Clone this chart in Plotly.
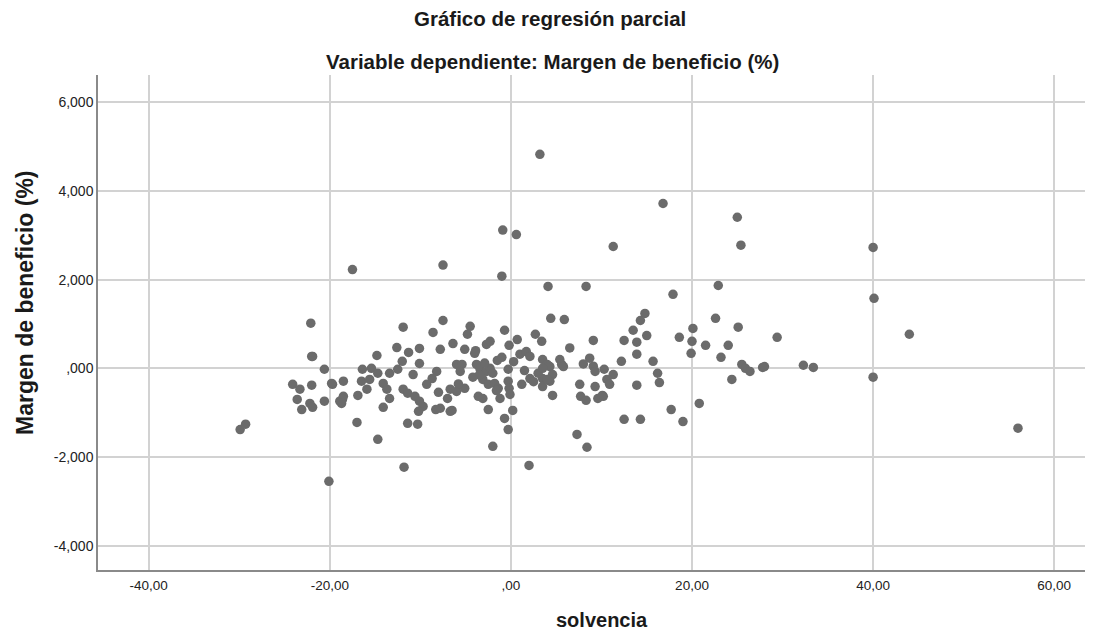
import plotly.graph_objects as go

solvencia = [
    -29.9, -29.3, -22.1, -22.0, -17.5, -20.1, -7.5, -0.9, 0.6, -1.0, 3.2, 4.1, 11.3, 16.8, 25.0, 25.4,
    17.9, 22.9, 40.0, 40.1, 44.0, 40.0, 56.0,
    32.3, 33.4, 29.4, 27.8, 28.0, 25.5, 25.9, 26.4, 24.4, 25.1, 24.0, 23.2, 22.6, 21.5, 20.1, 20.0, 19.9,
    20.8, 19.0, 17.7, 18.6,
    14.8, 14.3, 13.5, 15.0, 12.5, 13.9, 13.9, 12.2, 15.7, 16.2, 16.4, 13.9, 12.5, 14.3,
    10.3, 11.3, 10.6, 10.9, 10.2,
    4.4, 5.9, 3.4, 6.5, 9.1, 8.7, 8.0, 9.1, 9.3, 7.6, 9.3, 4.6, 7.7, 8.3, 9.6, 10.1, 7.3, 8.4,
    5.4, 5.6, 5.8, 3.5, 4.0, 4.3, 4.6, 4.3, 3.5, 3.5, 8.3,
    -7.5, -4.5, -4.8, -6.4, -0.7, -0.2, 0.7, 2.7, -2.7, -2.3, -4.0, -5.1, -1.5, 1.0, 1.7, 2.1,
    -7.8, -6.0, -5.4, -5.6, -3.8, -3.4, -2.7, -2.3, -2.0, -0.3, -3.1, -2.5, -1.8, -1.4, -0.3, -0.2,
    1.2, 2.1, 3.0, 3.5, 4.0, -6.7, -6.0, -5.1, -7.0, -3.6, -3.1, -1.2, -0.1, -6.5, -2.5, 0.2,
    -0.7, -0.3, -2.0, -7.8,
    -11.9, -8.6, -12.6, -10.1, -14.8, -11.3, -12.0, -10.1, -16.4, -15.4, -14.7, -13.4, -12.5,
    -10.8, -8.2, -8.7, -18.5, -16.5, -15.6, -14.1, -9.3, -11.9, -11.4, -10.6, -18.5, -18.9,
    -16.9, -15.9, -13.7, -13.4, -10.1, -9.7, -14.1, -10.2, -8.0, -8.3, -6.7, -11.4, -10.3,
    -17.0, -14.7,
    -21.9, -20.6, -24.1, -23.3, -22.0, -19.7, -19.8, -23.6, -22.2, -21.9, -23.1, -20.6, -18.6,
    -18.7,
    2.0, -11.8,
    -3.5, -1.0, 1.5, -4.2, -2.9, -5.8, 0.3, 2.5, -1.6, -3.9,
]
margen = [
    -1.38, -1.26, 1.02, 0.27, 2.23, -2.55, 2.33, 3.12, 3.02, 2.08, 4.83, 1.85, 2.75, 3.72, 3.41, 2.78,
    1.67, 1.87, 2.73, 1.58, 0.77, -0.20, -1.35,
    0.07, 0.02, 0.70, 0.02, 0.04, 0.09, 0.00, -0.07, -0.25, 0.93, 0.52, 0.25, 1.13, 0.52, 0.90, 0.61, 0.34,
    -0.79, -1.20, -0.93, 0.70,
    1.24, 1.08, 0.86, 0.74, 0.63, 0.59, 0.32, 0.16, 0.16, -0.11, -0.32, -0.38, -1.15, -1.15,
    -0.02, -0.14, -0.25, -0.36, -0.63,
    1.13, 1.10, 0.61, 0.46, 0.63, 0.23, 0.10, 0.05, -0.07, -0.36, -0.41, -0.61, -0.63, -0.72, -0.68,
    -0.61, -1.49, -1.78,
    0.20, 0.09, 0.04, 0.20, 0.09, 0.04, -0.14, -0.29, -0.23, -0.41, 1.85,
    1.08, 0.95, 0.77, 0.56, 0.86, 0.52, 0.65, 0.77, 0.54, 0.61, 0.34, 0.43, 0.18, 0.32, 0.38, 0.27,
    0.43, 0.09, 0.09, -0.07, 0.09, -0.02, -0.07, 0.00, -0.11, -0.02, -0.25, -0.36, -0.34, -0.45,
    -0.29, -0.45,
    -0.36, -0.23, -0.11, 0.00, -0.25, -0.47, -0.52, -0.45, -0.68, -0.63, -0.68, -0.68, -0.59,
    -0.95, -0.93, -0.95,
    -1.13, -1.38, -1.76, -0.90,
    0.93, 0.81, 0.47, 0.45, 0.29, 0.36, 0.16, 0.11, -0.02, 0.00, -0.11, -0.11, -0.02,
    -0.14, -0.07, -0.23, -0.29, -0.29, -0.25, -0.34, -0.36, -0.47, -0.56, -0.63, -0.63, -0.74,
    -0.61, -0.47, -0.47, -0.68, -0.74, -0.86, -0.88, -0.97, -0.54, -0.93, -0.97, -1.24, -1.26,
    -1.22, -1.60,
    0.27, -0.02, -0.36, -0.47, -0.38, -0.36, -0.34, -0.70, -0.79, -0.88, -0.93, -0.74, -0.70,
    -0.79,
    -2.19, -2.23,
    -0.15, 0.25, -0.05, -0.20, 0.12, -0.35, 0.15, -0.30, -0.50, 0.40,
]

x_ticks = [-40, -20, 0, 20, 40, 60]
x_tick_labels = ["-40,00", "-20,00", ",00", "20,00", "40,00", "60,00"]
y_ticks = [-4, -2, 0, 2, 4, 6]
y_tick_labels = ["-4,000", "-2,000", ",000", "2,000", "4,000", "6,000"]

title_1 = "Gráfico de regresión parcial"
title_2 = "Variable dependiente: Margen de beneficio (%)"
x_title = "solvencia"
y_title = "Margen de beneficio (%)"

W, H = 1099, 633
L, R, T, B = 98, 14, 75, 63
pw, ph = W - L - R, H - T - B

def px_x(p):
    return (p - L) / pw

def px_y(p):
    return (H - B - p) / ph

font_family = "Liberation Sans, Arial, sans-serif"
text_col = "#1a1a1a"

fig = go.Figure()
fig.add_trace(go.Scatter(
    x=solvencia, y=margen, mode="markers",
    marker=dict(size=9.5, color="#6b6b6b", line=dict(width=0)),
    showlegend=False, hoverinfo="x+y",
))

fig.update_layout(
    width=W, height=H,
    margin=dict(l=L, r=R, t=T, b=B),
    paper_bgcolor="white", plot_bgcolor="white",
    font=dict(family=font_family, size=12, color=text_col),
)

fig.add_annotation(text="<b>" + title_1 + "</b>", xref="paper", yref="paper",
                   x=px_x(550), y=px_y(19), xanchor="center", yanchor="middle",
                   showarrow=False, font=dict(size=20.5, color=text_col, family=font_family))
fig.add_annotation(text="<b>" + title_2 + "</b>", xref="paper", yref="paper",
                   x=px_x(552), y=px_y(61), xanchor="center", yanchor="middle",
                   showarrow=False, font=dict(size=20.5, color=text_col, family=font_family))
fig.add_annotation(text="<b>" + x_title + "</b>", xref="paper", yref="paper",
                   x=px_x(602), y=px_y(620), xanchor="center", yanchor="middle",
                   showarrow=False, font=dict(size=20, color=text_col, family=font_family))
fig.add_annotation(text="<b>" + y_title + "</b>", xref="paper", yref="paper",
                   x=px_x(25), y=px_y(303), xanchor="center", yanchor="middle", textangle=-90,
                   showarrow=False, font=dict(size=23, color=text_col, family=font_family))

fig.update_xaxes(
    range=[-45.6, 63.4], tickvals=x_ticks, ticktext=x_tick_labels,
    showgrid=True, gridcolor="#d2d2d2", gridwidth=1.5,
    showline=True, linecolor="#8a8a8a", linewidth=1.5,
    zeroline=False, ticks="", ticklabelstandoff=2,
    tickfont=dict(size=13.5, color="#222222", family="Liberation Sans Narrow, Liberation Sans, Arial"),
)
fig.update_yaxes(
    range=[-4.55, 6.62], tickvals=y_ticks, ticktext=y_tick_labels,
    showgrid=True, gridcolor="#d2d2d2", gridwidth=1.5,
    showline=True, linecolor="#8a8a8a", linewidth=1.5,
    zeroline=False, ticks="", ticklabelstandoff=0,
    tickfont=dict(size=14, color="#222222", family=font_family),
)

fig.write_html("out.html")
